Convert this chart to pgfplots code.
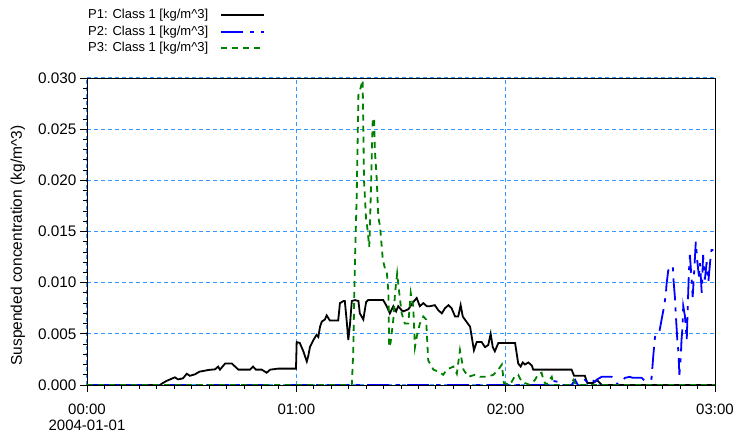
\documentclass[border=0pt]{standalone}
\usepackage{fontspec}
\setmainfont{Liberation Sans}
\usepackage{pgfplots}
\pgfplotsset{compat=1.18}
\definecolor{gridblue}{RGB}{51,153,255}
\definecolor{pgreen}{RGB}{0,128,0}
\definecolor{pblue}{RGB}{0,0,255}
\begin{document}
\begin{tikzpicture}
\begin{axis}[
  scale only axis,
  width=628pt, height=307pt,
  xmin=0, xmax=180, ymin=0, ymax=0.030,
  axis line style={black, line width=0.8pt},
  xtick={0,60,120,180},
  xticklabels={{00:00\\2004-01-01},01:00,02:00,03:00},
  xticklabel style={align=center, yshift=-8.5pt, font=\fontsize{15}{16}\selectfont},
  minor x tick num=11,
  ytick={0,0.005,0.010,0.015,0.020,0.025,0.030},
  minor y tick num=4,
  scaled y ticks=false,
  yticklabel style={/pgf/number format/fixed, /pgf/number format/fixed zerofill, /pgf/number format/precision=3, font=\fontsize{15.3}{17}\selectfont},
  /pgf/number format/assume math mode=true,
  xtick pos=bottom, ytick pos=left,
  tick align=outside,
  major tick length=7pt, minor tick length=4pt,
  tick style={black, line width=0.8pt},
  grid=major,
  major grid style={gridblue, dash pattern=on 4pt off 3pt, line width=1pt},
  ylabel={Suspended concentration (kg/m\textasciicircum 3)},
  ylabel style={at={(axis description cs:-0.1099,0.454)}, anchor=center, font=\fontsize{15.5}{18}\selectfont},
  legend plot pos=right,
  legend cell align=left,
  legend image code/.code={\draw[#1] (0pt,0pt) -- (43pt,0pt);},
  legend style={at={(axis description cs:0,1.229)}, anchor=north west, draw=none, fill=none, inner sep=0pt,
    font=\fontsize{13}{15}\selectfont, row sep=1.5pt, column sep=11pt,
    nodes={inner sep=1pt, text height=10pt, text depth=3pt}},
]
\addplot[black, line width=1.8pt] coordinates {
(0,0) (20.9,0) (21.8,0.0002) (22.8,0.0004) (25.2,0.00075) (26.1,0.00055) (27.5,0.00065)
(28.6,0.0011) (29.5,0.0009) (31.0,0.00105) (32.2,0.0013) (33.8,0.0014) (34.8,0.00147)
(36.7,0.00153) (37.6,0.0018) (38.1,0.0015) (39.6,0.0021) (41.5,0.0021) (43.4,0.0015)
(46.7,0.0015) (47.6,0.0018) (48.4,0.0015) (50.1,0.0015) (51.5,0.0012) (52.5,0.0015)
(54.8,0.0016) (59.9,0.0016) (60.1,0.0042) (61.0,0.0041) (62.0,0.0033) (63.0,0.0023)
(63.4,0.0028) (63.9,0.0037) (64.9,0.0044) (65.8,0.0049) (66.3,0.0047) (66.8,0.0057)
(67.3,0.0062) (68.2,0.0064) (68.7,0.0068) (69.6,0.0063) (72.0,0.0063) (72.5,0.0080)
(73.5,0.0082) (73.9,0.0082) (74.4,0.0064) (74.9,0.0044) (75.4,0.0060) (75.9,0.0082)
(76.8,0.0083) (77.8,0.0082) (78.2,0.0070) (79.2,0.0064) (80.0,0.0081) (80.6,0.0083)
(84.9,0.0083) (85.9,0.0077) (86.8,0.0070) (87.8,0.0077) (88.6,0.0072) (89.2,0.0077)
(90.2,0.0073) (90.7,0.0072) (92.1,0.0074) (93.5,0.0081) (94.5,0.0085) (95.4,0.0077)
(96.4,0.0080) (97.4,0.0077) (98.3,0.0077) (99.7,0.0078) (100.7,0.0073) (101.7,0.0070)
(102.6,0.0075) (103.6,0.0078) (104.5,0.0075) (105.5,0.0067) (106.4,0.0067) (107.1,0.0078)
(107.7,0.0067) (108.3,0.0064) (109.8,0.0057) (110.9,0.0034) (111.7,0.0042) (113.1,0.0042)
(114.1,0.0037) (115.0,0.0039) (115.7,0.0050) (116.3,0.0037) (116.9,0.0033) (117.9,0.0041)
(122.7,0.0041) (123.6,0.0021) (124.3,0.0018) (124.9,0.0022) (125.5,0.0020) (126.5,0.0022)
(127.5,0.0019) (127.9,0.0015) (138.9,0.0015) (139.6,0.0009) (142.7,0.0009) (143.4,0.0002)
(145.1,0.0002) (146.1,0.0005) (147.0,0.0002) (147.6,0) (180,0)
};
\addlegendentry{P1: Class 1 [kg/m\textasciicircum 3]}
\addplot[pblue, line width=1.8pt, dash pattern=on 22pt off 7pt on 4pt off 7pt] coordinates {
(0,0) (133.0,0) (133.6,0.0004) (135.1,0.0003) (135.6,0) (138.9,0) (139.9,0.0005) (140.7,0)
(142.7,0.0005) (143.7,0.0002) (144.7,0.0005) (145.6,0.0003) (146.5,0.0006) (147.5,0.0008)
(150.4,0.0008) (151.3,0.0004) (152.3,0.0) (153.3,0.0004) (154.2,0.0007) (155.6,0.0008)
(156.4,0.0007) (159.0,0.0007) (159.9,0.0004) (161.8,0.0006) (162.1,0.0019) (162.3,0.0028)
(162.8,0.0047) (164.0,0.0051) (164.7,0.0064) (165.2,0.0073) (165.9,0.0088) (166.1,0.0098)
(166.6,0.0112) (167.3,0.0116) (167.9,0.0116) (168.1,0.0103) (168.5,0.0086) (168.8,0.0067)
(169.2,0.0044) (169.5,0.0033) (169.8,0.0010) (170.2,0.0028) (170.4,0.0044) (170.7,0.0057)
(170.9,0.0077) (171.4,0.0067) (171.9,0.0044) (172.2,0.0077) (172.5,0.0109) (172.8,0.0127)
(173.3,0.0103) (173.6,0.0086) (174.0,0.0109) (174.5,0.0140) (174.9,0.0122) (175.4,0.0106)
(175.7,0.0119) (176.2,0.0090) (176.6,0.0127) (177.1,0.0103) (177.6,0.0120) (178.1,0.0101)
(178.6,0.0120) (179.0,0.0132) (179.7,0.0132) (180,0.0134)
};
\addlegendentry{P2: Class 1 [kg/m\textasciicircum 3]}
\addplot[pgreen, line width=1.8pt, dash pattern=on 6pt off 5pt] coordinates {
(0,0) (75.7,0) (75.9,0) (76.3,0.0031) (76.8,0.0122) (77.3,0.0184) (77.8,0.0285) (78.4,0.0290)
(79.0,0.0298) (79.2,0.0252) (79.4,0.0200) (80.0,0.0161) (80.3,0.0155) (80.9,0.0135)
(81.1,0.0155) (81.6,0.0220) (81.9,0.0259) (82.3,0.0261) (82.5,0.0230) (83.0,0.0204)
(83.5,0.0164) (84.0,0.0155) (84.8,0.0122) (85.4,0.0114) (85.9,0.0112) (86.4,0.0090)
(86.6,0.0037) (87.0,0.0041) (87.8,0.0064) (88.3,0.0090) (88.9,0.0109) (89.5,0.0090)
(90.2,0.0070) (91.1,0.0060) (92.1,0.0060) (92.8,0.0090) (93.5,0.0077) (94.0,0.0037)
(94.5,0.0047) (95.4,0.0060) (96.4,0.0067) (97.2,0.0064) (97.8,0.0024) (99.3,0.0015)
(100.7,0.0013) (102.1,0.0010) (103.1,0.0015) (105.0,0.0018) (106.0,0.0011) (106.9,0.0034)
(107.9,0.0015) (109.3,0.0008) (111.2,0.0010) (112.6,0.0008) (114.6,0.0008) (116.5,0.0010)
(117.9,0.0015) (118.9,0.0020) (119.5,0.0002) (121.2,0.0) (122.7,0.0009) (123.6,0.0010)
(124.6,0.0003) (127.0,0) (128.4,0.0005) (129.4,0.0011) (130.3,0.0012) (130.8,0.0005)
(131.6,0) (132.5,0.0005) (133.2,0.0008) (133.6,0) (138.7,0) (139.4,0.0005) (140.2,0) (180,0)
};
\addlegendentry{P3: Class 1 [kg/m\textasciicircum 3]}
\end{axis}
\pgfresetboundingbox
\path[use as bounding box] (-87pt,-54pt) rectangle (650pt,385pt);
\end{tikzpicture}
\end{document}
